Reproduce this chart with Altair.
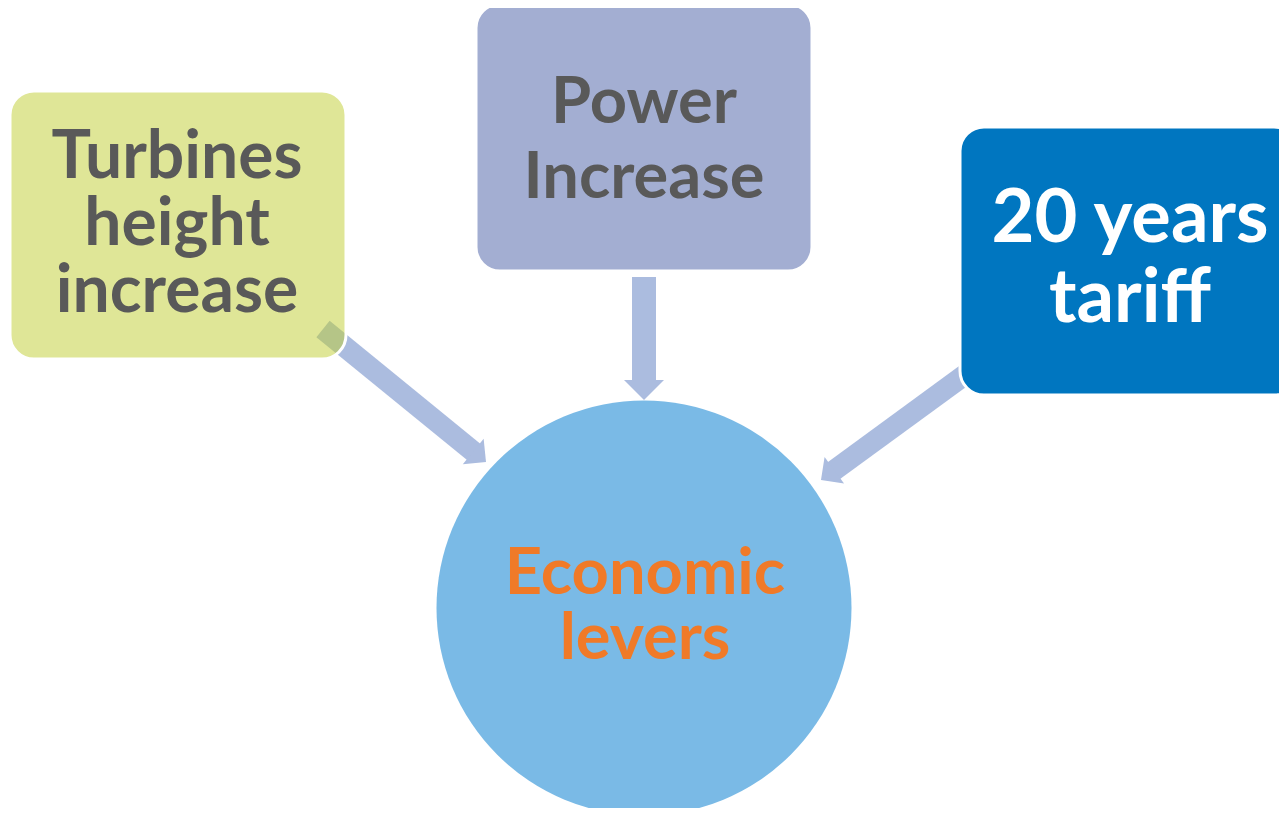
import altair as alt
import numpy as np
import pandas as pd

# ---- diagram data (reference pixel coordinates) ----
box_names = ["Turbines height increase", "Power Increase", "20 years tariff"]
box_x0 = [10, 476, 960]
box_x1 = [346, 812, 1298]
box_y0 = [91, 4, 127]
box_y1 = [359, 271, 395]

circle_label = "Economic levers"
circle_cx = [644]
circle_cy = [608]
circle_r = [207.5]

arrow_from = ["Turbines height increase", "Power Increase", "20 years tariff"]
arrow_x0 = [323, 644, 966]
arrow_y0 = [329, 277, 374]
arrow_tip_x = [486, 644, 821]
arrow_tip_y = [462, 400, 480]

# ---- geometry tables built from the arrays ----
shaft_w = [21, 24, 21]
head_w = [33, 40, 33]

rows = []
for i in range(3):
    dx = arrow_tip_x[i] - arrow_x0[i]
    dy = arrow_tip_y[i] - arrow_y0[i]
    L = np.hypot(dx, dy)
    ux, uy = dx / L, dy / L
    hl = head_w[i] / 2.0
    rows.append(dict(
        name=arrow_from[i],
        x0=arrow_x0[i], y0=arrow_y0[i],
        x1=arrow_tip_x[i] - ux * (hl - 1), y1=arrow_tip_y[i] - uy * (hl - 1),
        hx=arrow_tip_x[i] - ux * hl / 2, hy=arrow_tip_y[i] - uy * hl / 2,
        angle=float(np.degrees(np.arctan2(-dx, dy)) % 360),
        sw=shaft_w[i], hs=head_w[i] ** 2,
    ))
arrows = pd.DataFrame(rows)

boxes = pd.DataFrame(dict(name=box_names, x0=box_x0, x1=box_x1, y0=box_y0, y1=box_y1))
# vega circle symbol: radius = sqrt(size) / 2
circle = pd.DataFrame(dict(name=[circle_label], cx=circle_cx, cy=circle_cy,
                           size=[(2 * circle_r[0]) ** 2]))

W, H = 1271, 800
xs = alt.Scale(domain=[8, 8 + W], nice=False, zero=False)
ys = alt.Scale(domain=[8, 8 + H], nice=False, zero=False, reverse=True)
noax = None

circ = alt.Chart(circle).mark_circle(color="#7ABAE6", opacity=1).encode(
    x=alt.X("cx:Q", scale=xs, axis=noax),
    y=alt.Y("cy:Q", scale=ys, axis=noax),
    size=alt.Size("size:Q", scale=None),
)

shafts = alt.Chart(arrows).mark_rule(color="#ABBCDF", strokeCap="butt").encode(
    x=alt.X("x0:Q", scale=xs, axis=noax), x2="x1:Q",
    y=alt.Y("y0:Q", scale=ys, axis=noax), y2="y1:Q",
    strokeWidth=alt.StrokeWidth("sw:Q", scale=None),
)

heads = alt.Chart(arrows).mark_point(
    shape="M -1 -0.5 L 1 -0.5 L 0 0.5 Z", filled=True, color="#ABBCDF", opacity=1, strokeWidth=0
).encode(
    x=alt.X("hx:Q", scale=xs, axis=noax),
    y=alt.Y("hy:Q", scale=ys, axis=noax),
    angle=alt.Angle("angle:Q", scale=None),
    size=alt.Size("hs:Q", scale=None),
)

box_colors = alt.Color("name:N", scale=alt.Scale(domain=box_names,
                       range=["#C0CD30", "#A3AED2", "#0076C0"]), legend=None)

rects = alt.Chart(boxes).mark_rect(cornerRadius=24, stroke="white", strokeWidth=3).encode(
    x=alt.X("x0:Q", scale=xs, axis=noax), x2="x1:Q",
    y=alt.Y("y0:Q", scale=ys, axis=noax), y2="y1:Q",
    color=box_colors,
    fillOpacity=alt.condition(alt.datum.name == box_names[0], alt.value(0.5), alt.value(1)),
)

FONT = "Lato"

def label(text, x, y, size, lh, color):
    df = pd.DataFrame(dict(t=[text], x=[x], y=[y]))
    return alt.Chart(df).mark_text(
        align="center", baseline="alphabetic", lineBreak="\n", font=FONT,
        fontWeight="bold", fontSize=size, lineHeight=lh, color=color,
    ).encode(
        x=alt.X("x:Q", scale=xs, axis=noax),
        y=alt.Y("y:Q", scale=ys, axis=noax),
        text="t:N",
    )

t1 = label("Turbines\nheight\nincrease", 177, 178, 66, 67, "#595959")
t2 = label("Power\nIncrease", 644, 123, 65, 75, "#595959")
t3 = label("20 years\ntariff", 1130, 242, 74, 80, "#FFFFFF")
t4 = label("Economic\nlevers", 645, 594, 65, 65, "#F07A28")

chart = alt.layer(circ, shafts, heads, rects, t1, t2, t3, t4).properties(
    width=W, height=H, padding=0, autosize=alt.AutoSizeParams(type="none"),
    background="white",
).configure_view(stroke=None)

chart.save("out.html", embed_options={"renderer": "svg", "actions": False})
